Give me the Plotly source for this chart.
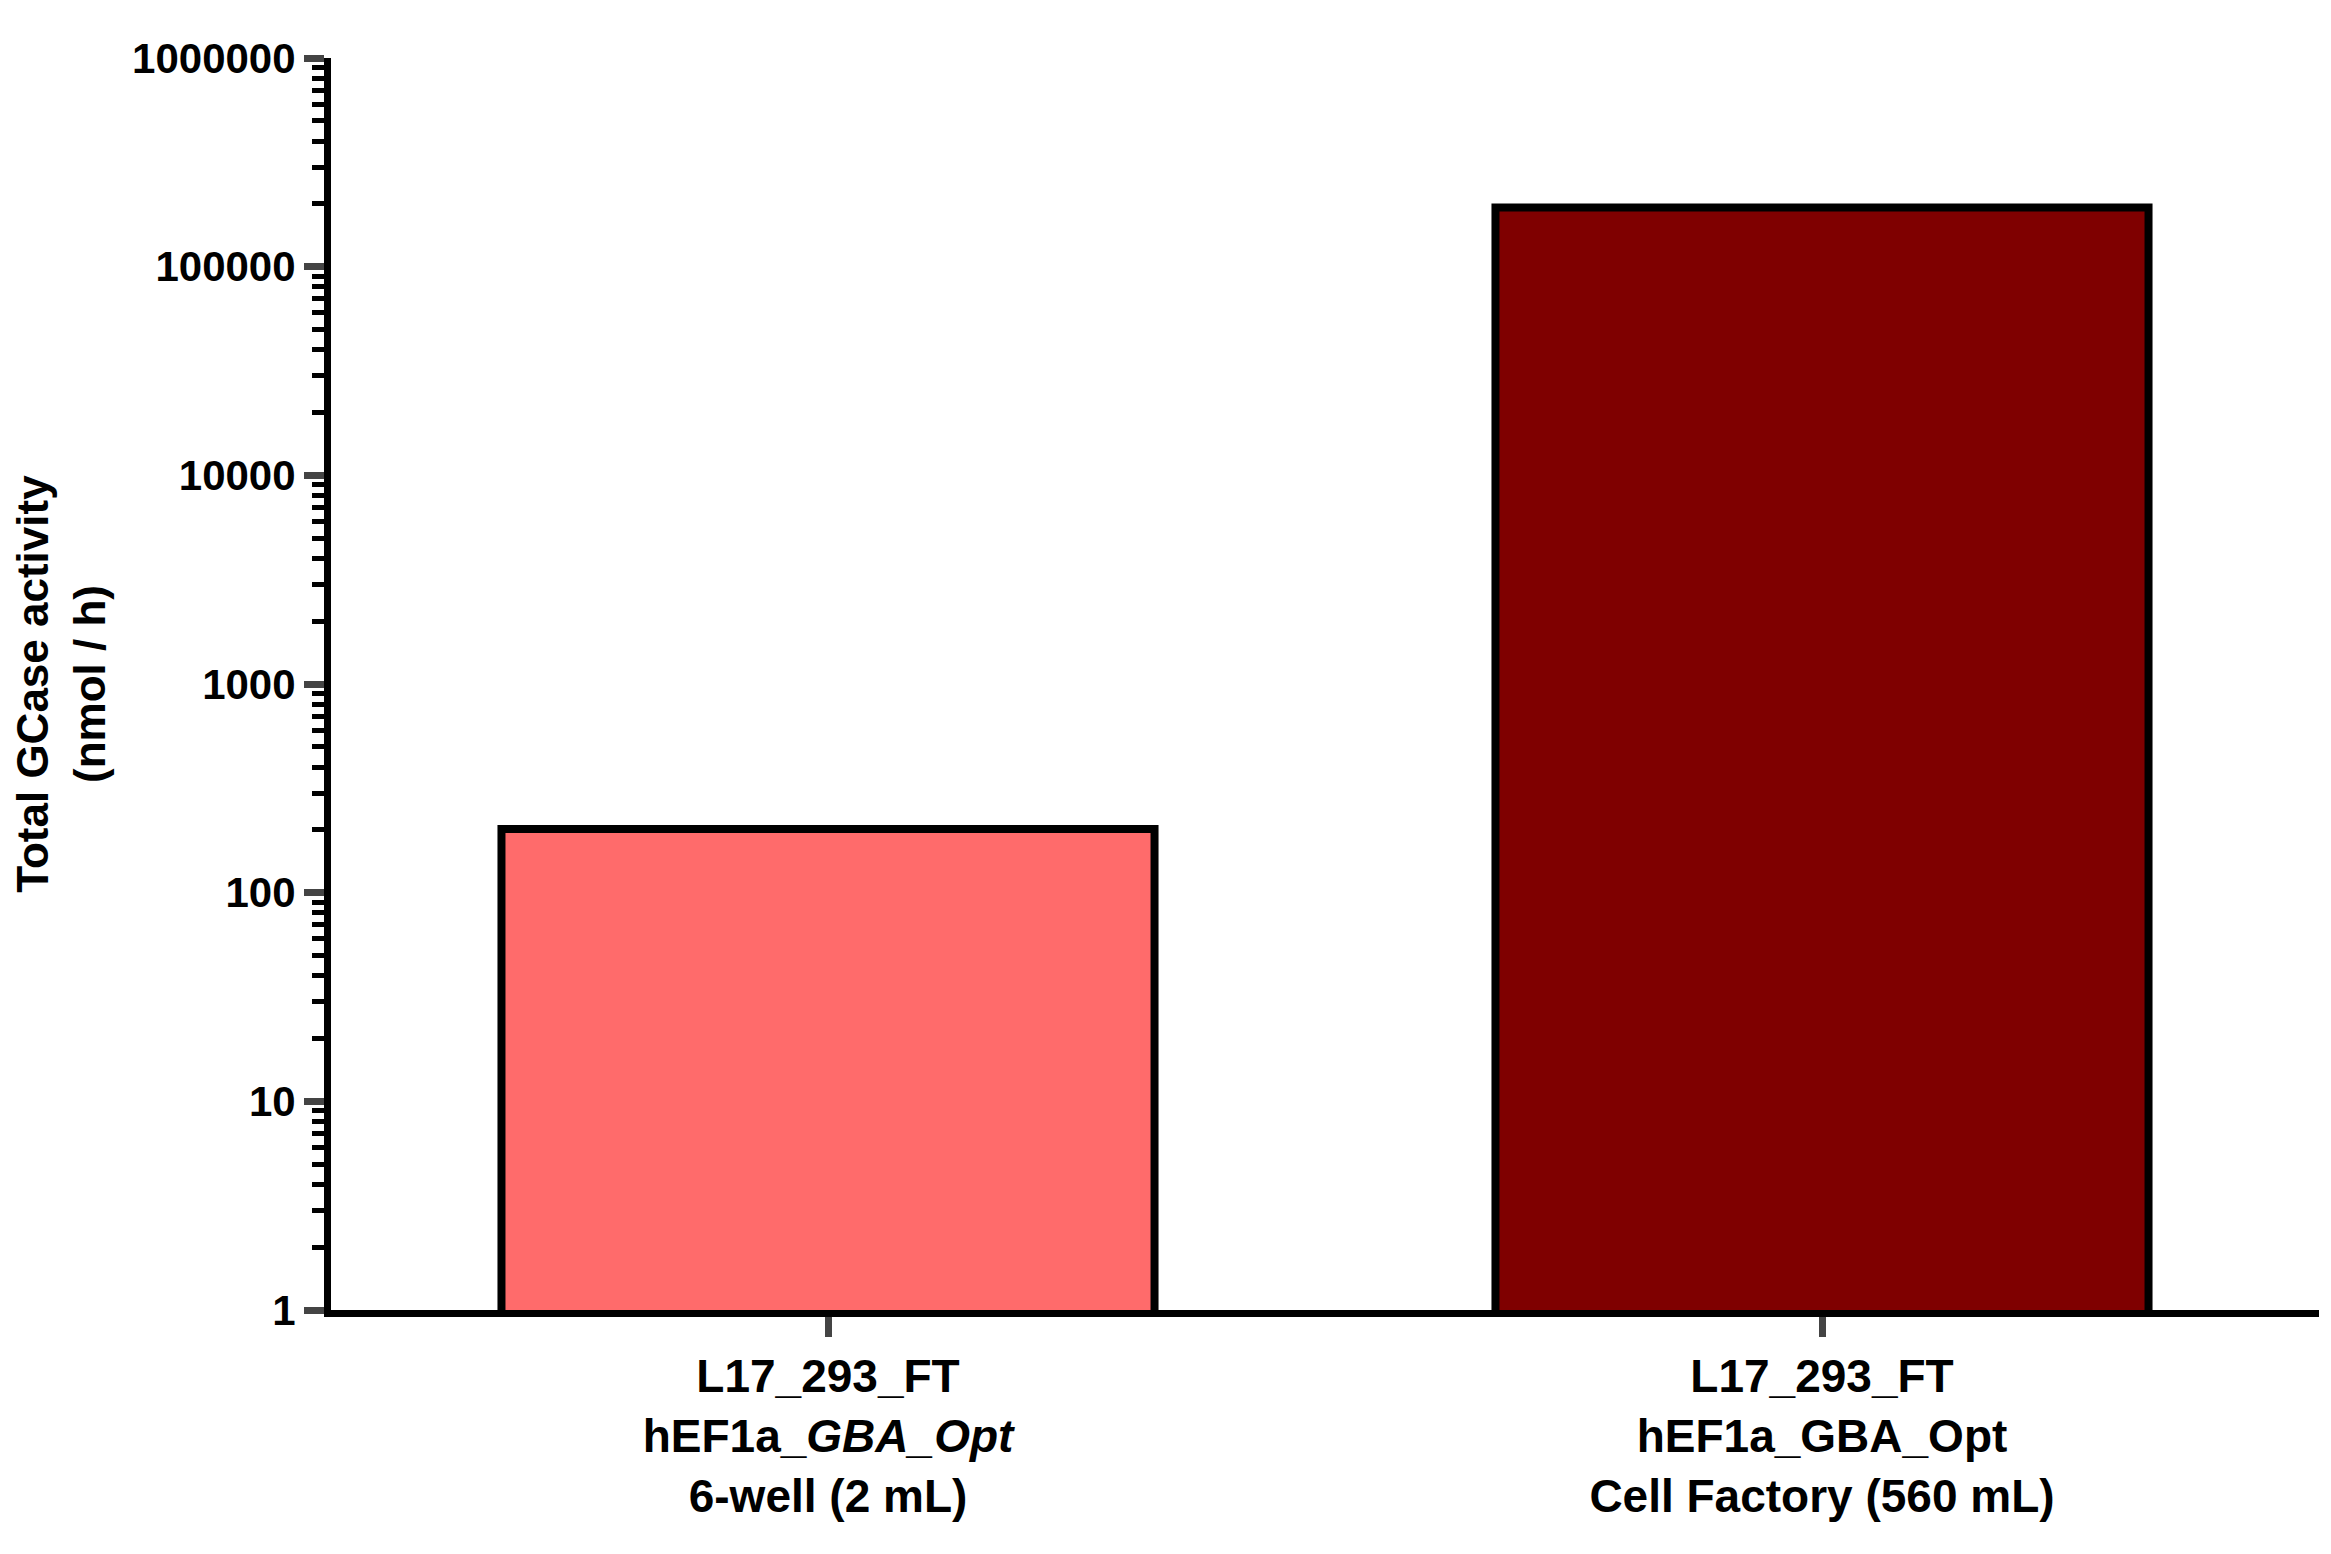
import plotly.graph_objects as go

categories = ["L17_293_FT<br>hEF1a_<i>GBA_Opt</i><br>6-well (2 mL)",
              "L17_293_FT<br>hEF1a_GBA_Opt<br>Cell Factory (560 mL)"]
values = [202, 192000]
colors = ["#FF6B6B", "#7F0000"]

fig = go.Figure(go.Bar(x=[0, 1], y=values, width=0.657, marker=dict(color=colors, line=dict(color="black", width=8))))
fig.update_layout(
    width=2331, height=1554, plot_bgcolor="white", paper_bgcolor="white",
    margin=dict(l=310, r=20, t=50, b=252), showlegend=False,
    font=dict(family="Liberation Sans", color="black"),
)
fig.update_xaxes(range=[-0.5, 1.5], tickvals=[0, 1], ticktext=categories,
                 showline=True, linewidth=7, linecolor="black", ticks="outside", ticklen=20, tickwidth=7,
                 tickfont=dict(family="Liberation Sans Narrow, Liberation Sans", size=46, weight="bold"),
                 showgrid=False, zeroline=False)
fig.update_yaxes(type="log", range=[0, 6], tickmode="linear", tick0=0, dtick=1, tickformat="d",
                 showline=True, linewidth=7, linecolor="black", ticks="outside", ticklen=20, tickwidth=7,
                 minor=dict(ticks="outside", dtick="D1", ticklen=12, tickwidth=5, tickcolor="black", showgrid=False),
                 tickfont=dict(size=42, weight="bold"), showgrid=False, zeroline=False,
                 title=dict(text="Total GCase activity<br>(nmol / h)", font=dict(size=44, weight="bold"), standoff=24))
fig.write_html("out.html")
